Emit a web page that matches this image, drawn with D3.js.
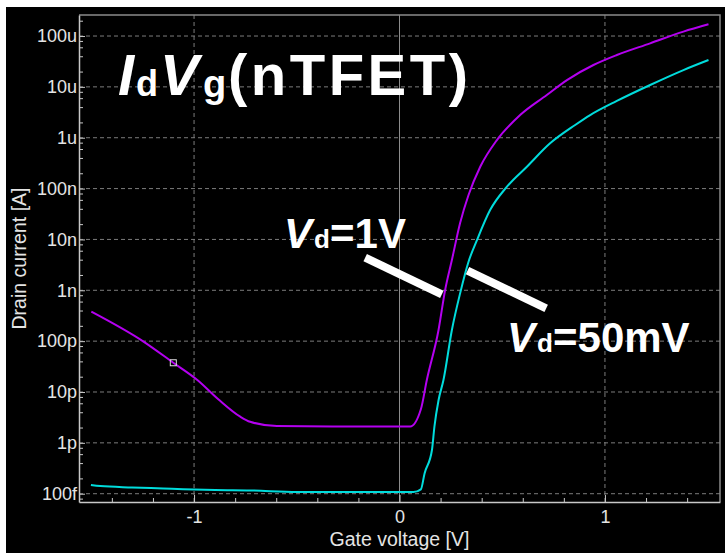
<!DOCTYPE html>
<html>
<head>
<meta charset="utf-8">
<script src="https://cdn.jsdelivr.net/npm/d3@7"></script>
<style>
    html, body { margin: 0; padding: 0; background: #ffffff; }
    svg { display: block; }
    text { font-family: "Liberation Sans", Arial, Helvetica, sans-serif; }
</style>
</head>
<body>
<div id="chart"></div>
<script>
// Vd = 1V curve (gate voltage [V], drain current [A])
const vgHigh = [-1.50, -1.246, -1.101, -0.984, -0.882, -0.775, -0.727, -0.597, -0.25, 0.052,
    0.104, 0.133, 0.19, 0.222, 0.255, 0.295, 0.336, 0.393, 0.474, 0.587,
    0.717, 0.815, 0.944, 1.058, 1.22, 1.382, 1.504];
const idHigh = [3.8e-10, 9.8e-11, 3.76e-11, 1.72e-11, 7.2e-12, 3.27e-12, 2.6e-12, 2.14e-12, 2.09e-12, 2.09e-12,
    4.57e-12, 1.72e-11, 1.66e-10, 1.01e-9, 3.94e-9, 2.1e-8, 7.46e-8, 2.69e-7, 9.0e-7, 2.79e-6,
    6.92e-6, 1.36e-5, 2.69e-5, 4.23e-5, 7.18e-5, 1.22e-4, 1.70e-4];

// Vd = 50mV curve
const vgLow = [-1.502, -1.456, -1.302, -1.15, -1.053, -0.897, -0.727, -0.499, 0.068, 0.104,
    0.122, 0.158, 0.17, 0.19, 0.214, 0.255, 0.295, 0.336, 0.377, 0.441,
    0.523, 0.62, 0.733, 0.855, 0.928, 1.058, 1.22, 1.382, 1.504];
const idLow = [1.48e-13, 1.41e-13, 1.33e-13, 1.27e-13, 1.23e-13, 1.18e-13, 1.16e-13, 1.08e-13, 1.08e-13, 1.22e-13,
    2.51e-13, 7.24e-13, 2.09e-12, 6.9e-12, 1.72e-11, 1.66e-10, 8.7e-10, 3.65e-9, 9.7e-9, 3.78e-8,
    1.09e-7, 2.69e-7, 7.76e-7, 1.78e-6, 2.79e-6, 5.3e-6, 1.09e-5, 2.14e-5, 3.37e-5];

// axis ticks
const xTickValues = [-1, 0, 1];
const xTickLabels = ["-1", "0", "1"];
const yTickValues = [1e-13, 1e-12, 1e-11, 1e-10, 1e-9, 1e-8, 1e-7, 1e-6, 1e-5, 1e-4];
const yTickLabels = ["100f", "1p", "10p", "100p", "1n", "10n", "100n", "1u", "10u", "100u"];

// pointer bars (gate voltage / current pairs)
const barHigh = [[-0.167, 4.38e-9], [0.206, 8.33e-10]];
const barLow = [[0.331, 2.43e-9], [0.714, 4.43e-10]];

const W = 725, H = 553;
const plot = { left: 79, right: 720, top: 15, bottom: 502 };

const svg = d3.select("#chart").append("svg")
    .attr("width", W)
    .attr("height", H);

// black panel
svg.append("rect")
    .attr("x", 6).attr("y", 7)
    .attr("width", W - 6).attr("height", H - 7)
    .attr("fill", "#000");

const x = d3.scaleLinear()
    .domain([-1.56, 1.56])
    .range([plot.left, plot.right]);

const y = d3.scaleLog()
    .domain([6.87e-14, 2.59e-4])
    .range([plot.bottom, plot.top]);

// grid
const grid = svg.append("g");
grid.selectAll("line.h")
    .data(yTickValues)
    .enter().append("line")
    .attr("x1", plot.left).attr("x2", plot.right)
    .attr("y1", d => y(d)).attr("y2", d => y(d))
    .attr("stroke", "#7c7c7c")
    .attr("stroke-dasharray", "4,3");

grid.selectAll("line.v")
    .data(xTickValues.filter(d => d !== 0))
    .enter().append("line")
    .attr("x1", d => x(d)).attr("x2", d => x(d))
    .attr("y1", plot.top).attr("y2", plot.bottom)
    .attr("stroke", "#7c7c7c")
    .attr("stroke-dasharray", "4,3");

// zero line
grid.append("line")
    .attr("x1", x(0)).attr("x2", x(0))
    .attr("y1", plot.top).attr("y2", plot.bottom)
    .attr("stroke", "#8c8c8c");

// frame top / right
svg.append("path")
    .attr("d", `M${plot.left},${plot.top}H${plot.right}V${plot.bottom}`)
    .attr("fill", "none")
    .attr("stroke", "#8a8a8a")
    .attr("stroke-width", 1.5);

// curves
const line = d3.line()
    .x(d => x(d[0]))
    .y(d => y(d[1]))
    .curve(d3.curveMonotoneX);

const highPts = vgHigh.map((v, i) => [v, idHigh[i]]);
const lowPts = vgLow.map((v, i) => [v, idLow[i]]);

svg.append("path")
    .datum(lowPts)
    .attr("fill", "none")
    .attr("stroke", "#00dcdc")
    .attr("stroke-width", 2)
    .attr("d", line);

svg.append("path")
    .datum(highPts)
    .attr("fill", "none")
    .attr("stroke", "#b400f0")
    .attr("stroke-width", 2)
    .attr("d", line);

// cursor marker on the Vd=1V curve
svg.append("rect")
    .attr("x", x(vgHigh[2]) - 3)
    .attr("y", y(idHigh[2]) - 3)
    .attr("width", 6).attr("height", 6)
    .attr("fill", "none")
    .attr("stroke", "#dcdcdc")
    .attr("stroke-width", 1);

// pointer bars
[barHigh, barLow].forEach(b => {
    svg.append("line")
        .attr("x1", x(b[0][0])).attr("y1", y(b[0][1]))
        .attr("x2", x(b[1][0])).attr("y2", y(b[1][1]))
        .attr("stroke", "#fff")
        .attr("stroke-width", 8);
});

// axes
const axisColor = "#c8c8c8";
const labelColor = "#e4e4e4";

const yMinor = [];
for (let e = -14; e <= -4; e++) {
    [2, 4, 6, 8].forEach(k => {
        const v = k * Math.pow(10, e);
        if (v > y.domain()[0] && v < y.domain()[1]) yMinor.push(v);
    });
}
const xMinor = d3.range(-14, 15, 2).map(d => d / 10).filter(d => xTickValues.indexOf(d) < 0);

const yAxisMinor = svg.append("g")
    .attr("transform", `translate(${plot.left},0)`)
    .call(d3.axisLeft(y).tickValues(yMinor).tickSize(-4).tickFormat(""));
yAxisMinor.select(".domain").remove();

const yAxis = svg.append("g")
    .attr("transform", `translate(${plot.left},0)`)
    .call(d3.axisLeft(y)
        .tickValues(yTickValues)
        .tickSizeInner(-6).tickSizeOuter(0)
        .tickPadding(2)
        .tickFormat((d, i) => yTickLabels[i]));

const xAxisMinor = svg.append("g")
    .attr("transform", `translate(0,${plot.bottom})`)
    .call(d3.axisBottom(x).tickValues(xMinor).tickSize(-4).tickFormat(""));
xAxisMinor.select(".domain").remove();

const xAxis = svg.append("g")
    .attr("transform", `translate(0,${plot.bottom})`)
    .call(d3.axisBottom(x)
        .tickValues(xTickValues)
        .tickSizeInner(-7).tickSizeOuter(0)
        .tickPadding(8)
        .tickFormat((d, i) => xTickLabels[i]));

[yAxis, yAxisMinor, xAxis, xAxisMinor].forEach(a => {
    a.selectAll("line").attr("stroke", axisColor);
    a.selectAll(".domain").attr("stroke", axisColor).attr("stroke-width", 1.5);
    a.selectAll("text")
        .attr("fill", labelColor)
        .style("font-size", "18px");
});
xAxis.selectAll("text").attr("dy", "0.71em");

// axis titles
svg.append("text")
    .attr("x", x(0))
    .attr("y", 546)
    .attr("text-anchor", "middle")
    .attr("fill", labelColor)
    .style("font-size", "19.5px")
    .text("Gate voltage [V]");

svg.append("text")
    .attr("transform", `translate(26,${(plot.top + plot.bottom) / 2}) rotate(-90)`)
    .attr("text-anchor", "middle")
    .attr("fill", labelColor)
    .style("font-size", "19.5px")
    .text("Drain current [A]");

// big title  IdVg(nTFET), one text with tspans
const title = svg.append("text")
    .attr("y", 95)
    .attr("fill", "#fff")
    .style("font-weight", "bold");
title.append("tspan").attr("x", 118)
    .style("font-size", "58px").style("font-style", "italic").text("I");
title.append("tspan").attr("x", 136).attr("y", 96)
    .style("font-size", "36px").text("d");
title.append("tspan").attr("x", 160).attr("y", 95)
    .style("font-size", "58px").style("font-style", "italic").text("V");
title.append("tspan").attr("x", 203).attr("y", 97)
    .style("font-size", "38px").text("g");
title.append("tspan").attr("x", 228).attr("y", 95)
    .style("font-size", "58px")
    .attr("textLength", 240)
    .text("(nTFET)");

// curve labels
function curveLabel(px, py, rest) {
    const t = svg.append("text")
        .attr("y", py)
        .attr("fill", "#fff")
        .style("font-weight", "bold");
    t.append("tspan").attr("x", px)
        .style("font-size", "42px").style("font-style", "italic").text("V");
    t.append("tspan").attr("x", px + 30)
        .style("font-size", "26px").text("d");
    t.append("tspan").attr("x", px + 46)
        .style("font-size", "42px").text(rest);
}
curveLabel(284, 248, "=1V");
curveLabel(507, 352, "=50mV");
</script>
</body>
</html>
